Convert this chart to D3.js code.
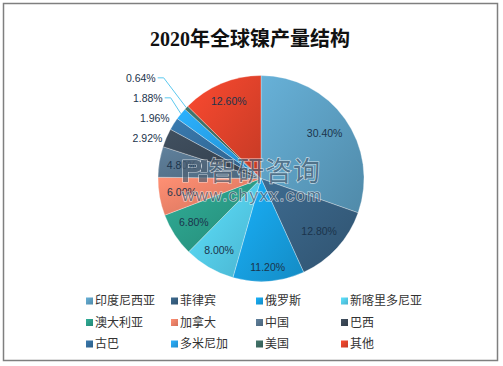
<!DOCTYPE html>
<html>
<head>
<meta charset="utf-8">
<script src="https://cdn.jsdelivr.net/npm/d3@7"></script>
<style>
  html, body { margin: 0; padding: 0; background: #fff; }
  svg { display: block; }
</style>
</head>
<body>
<svg id="chart" width="503" height="366"></svg>
<script>
const title = '2020年全球镍产量结构';
const names = ['印度尼西亚', '菲律宾', '俄罗斯', '新喀里多尼亚', '澳大利亚', '加拿大',
  '中国', '巴西', '古巴', '多米尼加', '美国', '其他'];
const values = [30.40, 12.80, 11.20, 8.00, 6.80, 6.00, 4.80, 2.92, 1.96, 1.88, 0.64, 12.60];
const colors = ['#5ea2c6', '#386284', '#17a3e6', '#56d1f2', '#2ca08b', '#f6846a',
  '#587690', '#3b4958', '#3570a0', '#27a3ee', '#3e6d64', '#e6442c'];

const cx = 261, cy = 178.5, radius = 103;

const svg = d3.select('#chart');
const defs = svg.append('defs');
const color = d3.scaleOrdinal().domain(names).range(colors);

// one gradient per slice, light top-left to dark bottom-right
names.forEach(function(n, i) {
  const c = d3.color(color(n));
  const grad = defs.append('linearGradient')
    .attr('id', 'grad' + i)
    .attr('x1', 0).attr('y1', 0).attr('x2', 1).attr('y2', 1);
  grad.append('stop').attr('offset', '0%').attr('stop-color', c.brighter(0.25));
  grad.append('stop').attr('offset', '100%').attr('stop-color', c.darker(0.45));
});

svg.append('rect')
  .attr('x', 3.5).attr('y', 3.5)
  .attr('width', 494).attr('height', 357)
  .attr('fill', '#fff')
  .attr('stroke', '#7f7f7f')
  .attr('stroke-width', 1.5);

svg.append('text')
  .attr('x', 250).attr('y', 46)
  .attr('text-anchor', 'middle')
  .style('font', 'bold 20px "Liberation Serif", "Noto Sans CJK SC", serif')
  .attr('fill', '#111')
  .text(title);

const pie = d3.pie().sort(null).value(function(d) { return d; });
const arcs = pie(values);
const arc = d3.arc().innerRadius(0).outerRadius(radius);

const g = svg.append('g').attr('transform', 'translate(' + cx + ',' + cy + ')');

g.selectAll('path.slice')
  .data(arcs)
  .enter()
  .append('path')
  .attr('class', 'slice')
  .attr('d', arc)
  .attr('fill', function(d, i) { return 'url(#grad' + i + ')'; })
  .attr('stroke', '#fff')
  .attr('stroke-opacity', 0.5)
  .attr('stroke-width', 0.6);

const labels = g.selectAll('text.label')
  .data(arcs)
  .enter()
  .append('text')
  .attr('class', 'label')
  .attr('text-anchor', 'middle')
  .attr('dy', '0.35em')
  .style('font', '10.5px "Liberation Sans", Arial, sans-serif')
  .attr('fill', '#1b344c')
  .text(function(d) { return d.value.toFixed(2) + '%'; });

// inside-end for big slices; small ones sit left of the rim point
const outside = [];
labels.each(function(d) {
  const hw = this.getComputedTextLength() / 2, hh = 6;
  const a = (d.startAngle + d.endAngle) / 2;
  const sx = Math.sin(a), sy = -Math.cos(a);
  d.hw = hw;
  d.mid = a;
  if (d.value >= 4) {
    const rr = radius - (hw * Math.abs(sx) + hh * Math.abs(sy)) - 7;
    d.lx = rr * sx;
    d.ly = rr * sy;
  } else {
    d.lx = radius * sx - 4 - hw;
    d.ly = radius * sy;
    outside.push(d);
  }
});

// push overlapping outside labels upward; far moves get a leader line
let prev = null;
outside.forEach(function(d) {
  if (prev && d.ly > prev.ly - 20) {
    const y = prev.ly - 20;
    if (d.ly - y > 10) {
      d.leader = true;
      d.lx = prev.lx + prev.hw - 7 - d.hw;
    }
    d.ly = y;
  }
  prev = d;
});

labels
  .attr('x', function(d) { return d.lx; })
  .attr('y', function(d) { return d.ly; });

g.selectAll('polyline.leader')
  .data(outside.filter(function(d) { return d.leader; }))
  .enter()
  .append('polyline')
  .attr('class', 'leader')
  .attr('fill', 'none')
  .attr('stroke', '#5cc9ef')
  .attr('stroke-width', 1)
  .attr('points', function(d) {
    const right = d.lx + d.hw;
    return [
      [right + 2, d.ly],
      [right + 8, d.ly],
      [radius * Math.sin(d.mid), -radius * Math.cos(d.mid)]
    ].join(' ');
  });

// legend
const lx = d3.scalePoint().domain([0, 1, 2, 3]).range([86, 341]);
const ly = d3.scalePoint().domain([0, 1, 2]).range([301, 344]);

const item = svg.append('g')
  .selectAll('g')
  .data(names)
  .enter()
  .append('g')
  .attr('transform', function(d, i) {
    return 'translate(' + lx(i % 4) + ',' + ly(Math.floor(i / 4)) + ')';
  });

item.append('rect')
  .attr('x', 0).attr('y', -3.5)
  .attr('width', 7).attr('height', 7)
  .attr('fill', function(d, i) { return 'url(#grad' + i + ')'; });

item.append('text')
  .attr('x', 9)
  .attr('dy', '0.36em')
  .style('font', '12px "Noto Sans CJK SC", sans-serif')
  .attr('fill', '#333')
  .text(String);

// watermark
const wm = svg.append('g')
  .attr('opacity', 0.7)
  .attr('fill', '#4f6275')
  .attr('stroke', '#fff')
  .attr('stroke-width', 1.2)
  .style('paint-order', 'stroke');

wm.append('path')
  .attr('d', 'M183,160 h13 a6,6 0 0 1 0,12 h-8 v10 h-5 z M188,164 v4 h7 a2,2 0 0 0 0,-4 z M199,175 h8 v7 h-8 z M201,160 h6 v12 h-6 z')
  .attr('fill-rule', 'evenodd');

wm.append('text')
  .attr('x', 209).attr('y', 181)
  .style('font', '27px "Noto Sans CJK SC", sans-serif')
  .attr('letter-spacing', 1)
  .text('智研咨询');

wm.append('text')
  .attr('x', 182).attr('y', 201)
  .style('font', '17px "Liberation Sans", Arial, sans-serif')
  .attr('letter-spacing', 1.5)
  .text('www.chyxx.com');
</script>
</body>
</html>
